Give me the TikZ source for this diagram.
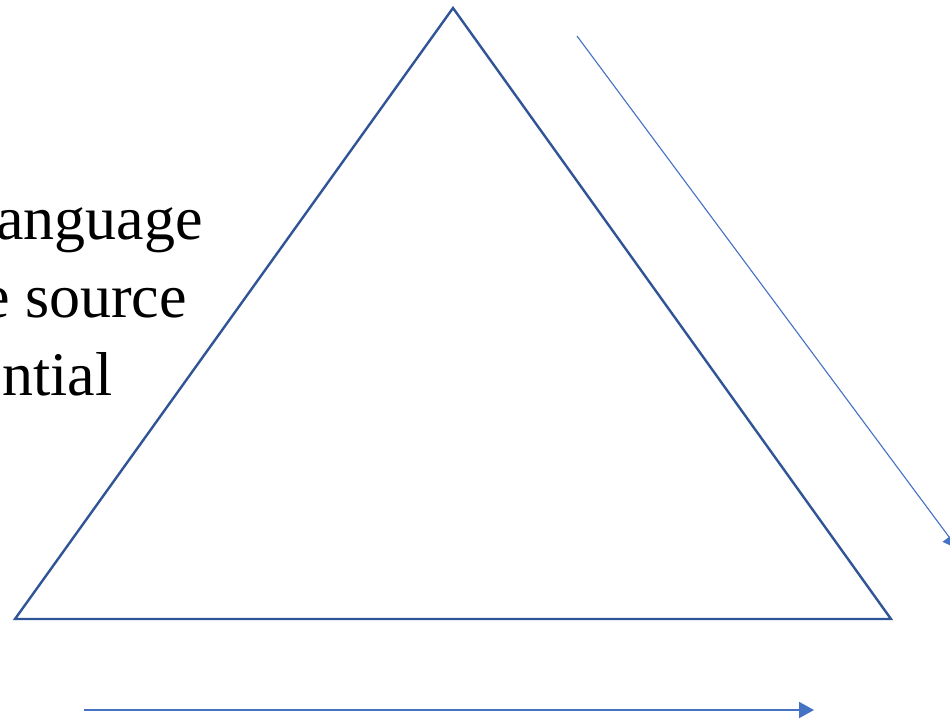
\documentclass[tikz,border=0pt]{standalone}
\usepackage{fontspec}
\setmainfont{Liberation Serif}
\usetikzlibrary{positioning,arrows.meta}
\definecolor{trblue}{HTML}{2F5597}
\definecolor{arblue}{HTML}{4472C4}

\begin{document}
\begin{tikzpicture}[x=1pt, y=-1pt,
  edge/.style={draw=trblue, line width=2.4pt, line join=miter},
  flow/.style={-{Triangle[length=15pt, width=16pt]}, draw=arblue, fill=arblue},
  words/.style={anchor=base west, inner sep=0pt, font=\fontsize{62}{78}\selectfont}
]
% ================= frame =================
\useasboundingbox (0,0) rectangle (950,721);
\clip (0,0) rectangle (950,721);
% ================= triangle =================
\coordinate (top) at (453,8);
\coordinate (left) at (15,619);
\coordinate (right) at (891,619);
\draw[edge] (top) -- (left) -- (right) -- cycle;
% ================= text, cut at the left edge =================
\node[words] (lineA) at (-4,239) {anguage};
\node[words] (lineB) at (-18,317) {e source};
\node[words] (lineC) at (2,395) {ntial};
% ================= arrows =================
\coordinate (diagstart) at (577,36);
\coordinate (diagend) at (958,549);
\draw[flow, line width=1.1pt] (diagstart) -- (diagend);
\coordinate (basestart) at (84,710);
\coordinate (baseend) at (814,710);
\draw[flow, line width=2pt] (basestart) -- (baseend);
\end{tikzpicture}
\end{document}
